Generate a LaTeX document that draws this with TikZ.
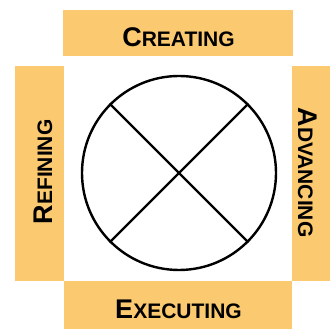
\documentclass[tikz,border=0pt]{standalone}
\usepackage{fontspec}
\setmainfont{Liberation Sans}
\usepackage{tikz}

\definecolor{boxorange}{RGB}{251,201,112}

% Kapitälchen: großer Anfangsbuchstabe, Rest kleiner
\newcommand{\capword}[2]{{\fontsize{27}{27}\selectfont #1}{\fontsize{21}{21}\selectfont #2}}

\begin{document}
\begin{tikzpicture}
		[
		x=1pt, y=1pt, font=\bfseries,
		phase/.style={inner sep=0pt, anchor=base}
		%Voreinstellung für Text
		]
		
		%Rahmen des Bildes
		\useasboundingbox (0,0) rectangle (330,329);
		
		%Farbige Felder
		\fill[boxorange] (63,273) rectangle (293,319);
		\fill[boxorange] (15,48) rectangle (64,263);
		\fill[boxorange] (292,48) rectangle (330,263);
		\fill[boxorange] (64,0) rectangle (292,48);
		
		%Beschriftung der Felder
		\node[phase] (creating) at (178.5,282) {\capword{C}{REATING}};
		\node[phase] (executing) at (178.5,10) {\capword{E}{XECUTING}};
		\node[phase, rotate=90] (refining) at (52,157) {\capword{R}{EFINING}};
		\node[phase, rotate=-90] (advancing) at (298,156.5) {\capword{A}{DVANCING}};
		
		%Kreis mit Kreuz
		\node[draw, circle, line width=2.4pt, minimum size=194pt, inner sep=0pt] (wheel) at (179,156) {};
		\draw[line width=2.4pt] (wheel.45) -- (wheel.225);
		\draw[line width=2.4pt] (wheel.135) -- (wheel.315);
	\end{tikzpicture}
\end{document}
